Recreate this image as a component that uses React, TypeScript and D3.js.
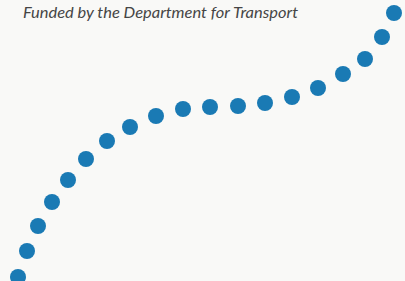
import { useRef, useEffect } from "react";
import * as d3 from "d3";

// dot positions (x across, y = height above the bottom edge)
const xValues = [18, 27, 38, 52, 68, 86, 107, 130, 156, 183, 210, 238, 265, 292, 318, 343, 365, 382, 394];
const yValues = [4, 30, 55, 79, 101, 122, 140, 154, 165, 172, 174, 175, 178, 184, 193, 207, 222, 244, 268];
const caption = "Funded by the Department for Transport";

export default function App() {
  const ref = useRef<SVGSVGElement | null>(null);

  useEffect(() => {
    document.body.style.margin = "0";
    const svg = d3.select(ref.current);
    svg.selectAll("*").remove();

    const width = 405;
    const height = 281;

    const x = d3.scaleLinear().domain([0, width]).range([0, width]);
    const y = d3.scaleLinear().domain([0, height]).range([height, 0]);

    svg.append("rect").attr("width", width).attr("height", height).attr("fill", "#f9f9f7");

    svg
      .append("text")
      .attr("x", 23)
      .attr("y", 18)
      .attr("font-family", "Lato, sans-serif")
      .attr("font-style", "italic")
      .attr("font-size", 16)
      .attr("fill", "#454545")
      .attr("textLength", 275)
      .attr("lengthAdjust", "spacingAndGlyphs")
      .text(caption);

    const pts = xValues.map((v, i) => ({ x: v, y: yValues[i] }));

    svg
      .append("g")
      .selectAll("circle")
      .data(pts)
      .enter()
      .append("circle")
      .attr("cx", (d) => x(d.x))
      .attr("cy", (d) => y(d.y))
      .attr("r", 8)
      .attr("fill", "#1a7ab4");
  }, []);

  return <svg ref={ref} width={405} height={281} style={{ display: "block" }}></svg>;
}
